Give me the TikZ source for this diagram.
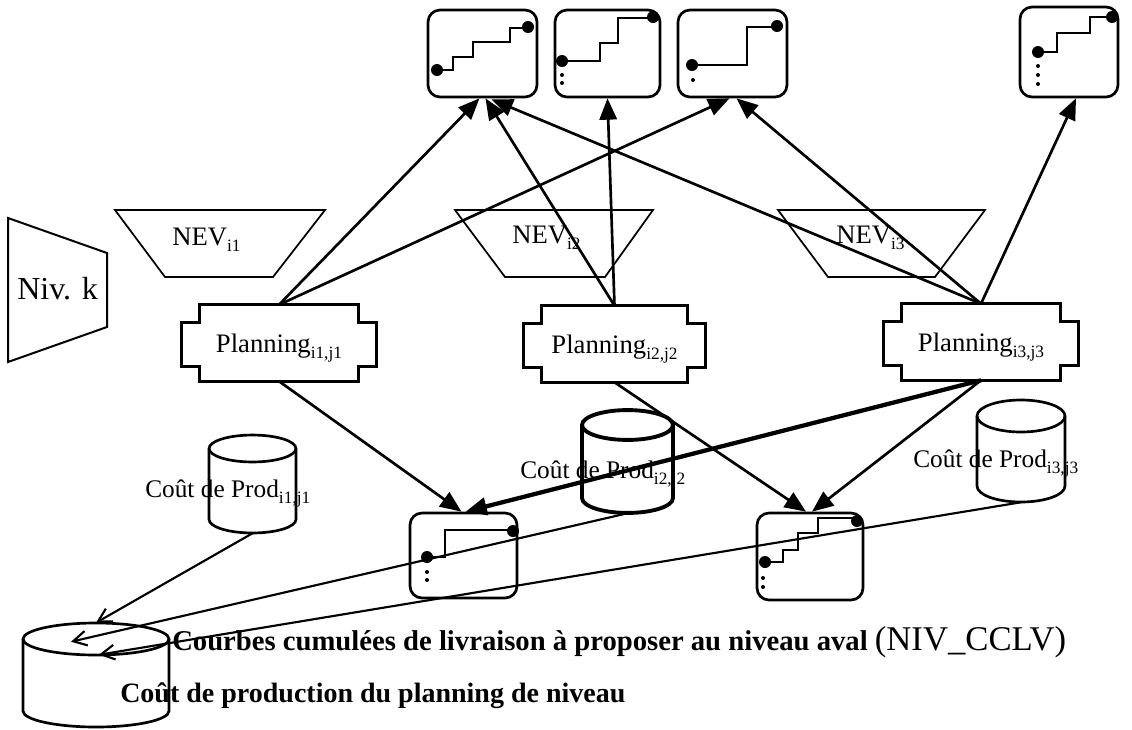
\documentclass[tikz,border=0pt]{standalone}
\usepackage{fontspec}
\setmainfont{Liberation Serif}
\usetikzlibrary{arrows.meta,calc}
\newcommand\lowtxt[1]{\raisebox{-4.5pt}{\fontsize{13pt}{13pt}\selectfont #1}}
\newcommand\planout[1]{%
  \draw[ln] (#1.north west) -- (#1.north east) -- ($(#1.north east)+(0,18)$) -- ($(#1.north east)+(18,18)$)
   -- ($(#1.south east)+(18,-15)$) -- ($(#1.south east)+(0,-15)$) -- (#1.south east) -- (#1.south west)
   -- ($(#1.south west)+(0,-15)$) -- ($(#1.south west)+(-18,-15)$) -- ($(#1.north west)+(-18,18)$)
   -- ($(#1.north west)+(0,18)$) -- cycle;}
% cylinder: cx, rx(pt), top-centre y, ry(pt), bottom-centre y, style
\newcommand\cylout[6]{%
  \draw[#6] (#1,#3) ellipse [x radius=#2, y radius=#4];
  \draw[#6] ($(#1,#3)+(-#2,0pt)$) -- ($(#1,#5)+(-#2,0pt)$)
     arc[start angle=180, end angle=360, x radius=#2, y radius=#4] -- ($(#1,#3)+(#2,0pt)$);}
\begin{document}
\begin{tikzpicture}[x=0.75pt,y=-0.75pt,
  ln/.style={line width=2pt, line join=miter},
  crv/.style={draw, line width=2pt, rounded corners=9pt, inner sep=0pt},
  stair/.style={line width=1.9pt},
  conn/.style={line width=2pt, -{Triangle[length=16pt,width=13pt]}},
  barb/.style={line width=1.6pt, -{Straight Barb[length=10pt,width=11pt]}},
  plan/.style={inner sep=0pt, minimum height=57pt, text height=14pt, text depth=0pt,
               font=\fontsize{20pt}{20pt}\selectfont},
  txt/.style={inner sep=0pt, anchor=base west},
  nev/.style={line width=1.3pt, line join=miter},
  hid/.style={inner sep=0pt, draw=none}
]
\useasboundingbox (0,0) rectangle (1132,729);

% ---- curve boxes (top)
\node[crv, minimum width=81.75pt, minimum height=65.25pt] (bA) at (482.5,53.5) {};
\node[crv, minimum width=78.75pt, minimum height=65.25pt] (bB) at (607.5,53.5) {};
\node[crv, minimum width=81.75pt, minimum height=65.25pt] (bC) at (732.5,53.5) {};
\node[crv, minimum width=73.5pt,  minimum height=67.5pt]  (bD) at (1069,52) {};
% ---- curve boxes (bottom)
\node[crv, minimum width=80.25pt, minimum height=63.75pt] (bE) at (463.5,555.5) {};
\node[crv, minimum width=79.5pt,  minimum height=65.25pt] (bF) at (810,556.5) {};

% staircases
\draw[stair] (437,70) -| (453,57) -| (473,42) -| (510,28) -- (528,28);
\fill (437,70) circle[radius=4.5pt] (528,27) circle[radius=4.5pt];

\draw[stair] (562,61) -| (600,43) -| (618,18) -- (653,18);
\fill (562,61) circle[radius=4.5pt] (653,17) circle[radius=4.5pt]
      (562,75) circle[radius=1.5pt] (562,83) circle[radius=1.5pt];

\draw[stair] (692,65) -| (747,27) -- (777,27);
\fill (692,65) circle[radius=4.5pt] (777,26) circle[radius=4.5pt] (693,80) circle[radius=1.5pt];

\draw[stair] (1038,52) -| (1057,33) -| (1090,17) -- (1112,17);
\fill (1038,52) circle[radius=4.5pt] (1112,17) circle[radius=4.5pt]
      (1038,66) circle[radius=1.5pt] (1038,75) circle[radius=1.5pt] (1038,84) circle[radius=1.5pt];

\draw[stair] (427,557) -| (445,530) -- (512,530);
\fill (427,557) circle[radius=4.5pt] (513,531) circle[radius=4.5pt]
      (427,572) circle[radius=1.5pt] (427,580) circle[radius=1.5pt];

\draw[stair] (765,562) -| (783,550) -| (798,533) -| (818,518) -- (857,518) -- (857,521);
\fill (765,562) circle[radius=4.5pt] (857,521) circle[radius=4.5pt]
      (763,578) circle[radius=1.5pt] (763,587) circle[radius=1.5pt];

% ---- Niv. k
\draw[nev, line width=1.5pt] (8,218) -- (107,253) -- (107,327) -- (8,362) -- cycle;
\node[txt, font=\fontsize{24pt}{24pt}\selectfont] (niv) at (17,299) {Niv. k};

% ---- NEV trapezoids
\draw[nev] (115,210) -- (325,210) -- (273,277) -- (165,277) -- cycle;
\draw[nev] (455,210) -- (653,210) -- (605,277) -- (505,277) -- cycle;
\draw[nev] (778,210) -- (985,210) -- (935,277) -- (828,277) -- cycle;
\node[txt, font=\fontsize{20pt}{20pt}\selectfont] (nev1) at (172,245) {NEV\lowtxt{i1}};
\node[txt, font=\fontsize{20pt}{20pt}\selectfont] (nev2) at (512,243) {NEV\lowtxt{i2}};
\node[txt, font=\fontsize{20pt}{20pt}\selectfont] (nev3) at (836,243) {NEV\lowtxt{i3}};

% ---- Planning nodes
\node[plan, minimum width=118.5pt]  (pl1) at (279,343)   {Planning\lowtxt{i1,j1}};
\node[plan, minimum width=108.75pt] (pl2) at (614.5,344) {Planning\lowtxt{i2,j2}};
\node[plan, minimum width=118.5pt]  (pl3) at (981,342)   {Planning\lowtxt{i3,j3}};
\planout{pl1}
\planout{pl2}
\planout{pl3}

% ---- cylinders
\cylout{252.5}{32.6pt}{448.5}{10.1pt}{519.5}{ln}
\cylout{627.5}{34.1pt}{425}{11.2pt}{498}{line width=2.9pt}
\cylout{1021}{33pt}{416}{12pt}{486}{ln}
\cylout{96}{54.75pt}{639}{12pt}{711}{ln}
\node[hid, minimum width=65.25pt, minimum height=73.5pt] (cy1) at (252.5,484) {};
\node[hid, minimum width=68.25pt, minimum height=77.25pt] (cy2) at (627.5,461.5) {};
\node[hid, minimum width=66pt,    minimum height=76.5pt]  (cy3) at (1021,451) {};
\node[hid, minimum width=109.5pt, minimum height=78pt]    (big) at (96,675) {};

\node[txt, font=\fontsize{19pt}{19pt}\selectfont] (cp1) at (145,497) {Coût de Prod\lowtxt{i1,j1}};
\node[txt, font=\fontsize{19pt}{19pt}\selectfont] (cp2) at (520,478) {Coût de Prod\lowtxt{i2,j2}};
\node[txt, font=\fontsize{19pt}{19pt}\selectfont] (cp3) at (913,467) {Coût de Prod\lowtxt{i3,j3}};

% ---- legend texts
\node[txt, font=\bfseries\fontsize{21.5pt}{21.5pt}\selectfont] (leg1) at (172,650)
  {Courbes cumulées de livraison à proposer au niveau aval {\mdseries\fontsize{26pt}{26pt}\selectfont(NIV\_CCLV)}};
\node[txt, font=\bfseries\fontsize{21pt}{21pt}\selectfont] (leg2) at (120,702)
  {Coût de production du planning de niveau};

% ---- connectors (top)
\draw[conn] (pl1.north) -- ($(bA.south)+(-3,0)$);
\draw[conn] (pl1.north) -- ($(bC.south)+(-3,0)$);
\draw[conn] (pl2.north) -- ($(bA.south)+(3,0)$);
\draw[conn] (pl2.north) -- (bB.south);
\draw[conn] (pl3.north) -- ($(bA.south)+(9,1)$);
\draw[conn] (pl3.north) -- ($(bC.south)+(4,0)$);
\draw[conn] (pl3.north) -- ($(bD.south)+(7,0)$);
% ---- connectors (bottom)
\draw[conn] (pl1.south) -- ($(bE.north)+(-2,0)$);
\draw[conn, line width=3.2pt] (pl3.south) -- ($(bE.north)+(2,0)$);
\draw[conn] (pl2.south) -- ($(bF.north)+(-4,0)$);
\draw[conn] (pl3.south) -- ($(bF.north)+(2,0)$);
% ---- to the global cost/curve store
\draw[barb] (cy1.south) -- (big.north);
\draw[barb] (cy2.south) -- ($(big.north)+(-25,19)$);
\draw[barb] (cy3.south) -- ($(big.north)+(3,32)$);
\end{tikzpicture}
\end{document}
